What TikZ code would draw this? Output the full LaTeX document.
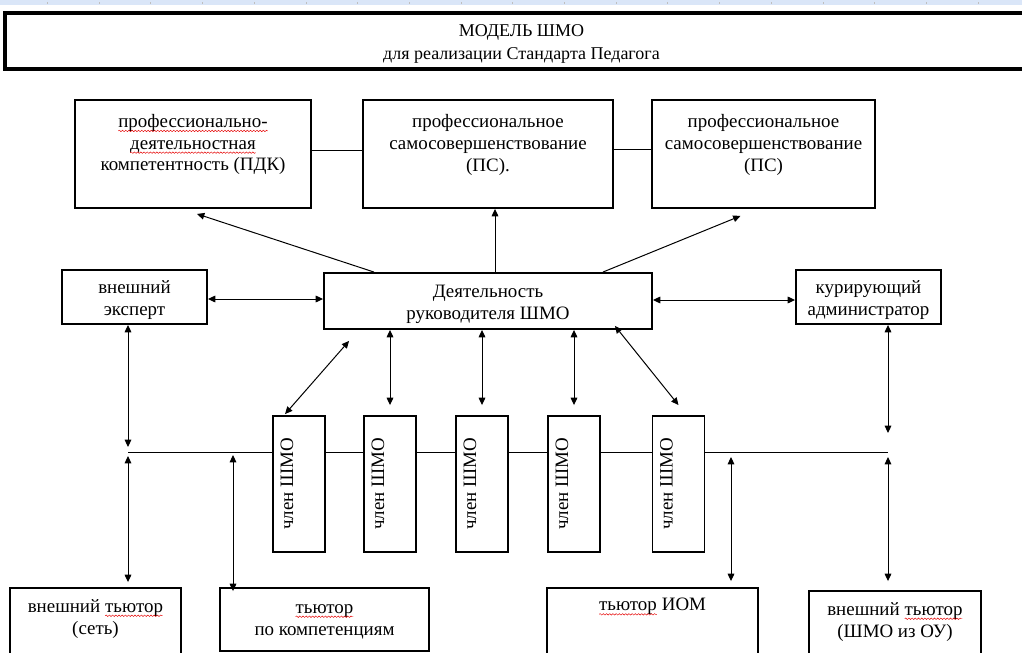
\documentclass[tikz,border=0pt]{standalone}
\usepackage{fontspec}
\setmainfont{Liberation Serif}
\usetikzlibrary{arrows.meta,calc,decorations.pathmorphing}

\definecolor{rulerblue}{RGB}{218,230,248}
\newcommand\spell[1]{\tikz[baseline=(sw.base)]{\node[shape=rectangle,draw=none,fill=none,inner sep=0pt,outer sep=0pt,minimum size=0pt,anchor=base] (sw) {#1};
  \draw[red!90!black,line width=0.35pt,decorate,decoration={snake,amplitude=0.55pt,segment length=2.4pt}]
    ([yshift=-2.6pt]sw.base west) -- ([yshift=-2.6pt]sw.base east);}}
\tikzset{every picture/.style={line width=0.75pt}}

\begin{document}
\begin{tikzpicture}[x=0.75pt,y=0.75pt,yscale=-1,>={Triangle[length=5.5pt,width=5pt]},
  box/.style={draw,line width=1.4pt,inner sep=0pt},
  boxsize/.style 2 args={minimum width=#1*0.75pt,minimum height=#2*0.75pt},
  txt/.style={inner sep=0pt,align=center,font=\fontsize{14.2}{16.3}\selectfont},
  vtxt/.style={inner sep=0pt,rotate=90,font=\fontsize{14.2}{16.3}\selectfont}]
\useasboundingbox (0,0) rectangle (1022,653);

%Shape: Rectangle (ruler strip)
\fill[rulerblue] (0,0) rectangle (1022,5);
\foreach \i in {0,...,19} \fill[gray!50] (47+51.7*\i,2) rectangle +(1,1.5);

%Shape: Rectangle [title]
\node[box,line width=2.3pt,boxsize={1027}{56}] (title) at (518.5,41) {};
% Text Node
\node[txt,font=\fontsize{13.5}{17.4}\selectfont] (titlet) at ($(title)+(3,3)$) {МОДЕЛЬ ШМО\\для реализации Стандарта Педагога};

%Shape: Rectangle [top row]
\node[box,boxsize={236}{108}] (pdk) at (193,154) {};
\node[box,boxsize={250}{108}] (psa) at (488,154) {};
\node[box,boxsize={223}{108}] (psb) at (763.5,154) {};
% Text Node
\node[txt,anchor=north] (pdkt) at ($(pdk.north)+(0,15)$) {\spell{профессионально-}\\\spell{деятельностная}\\компетентность (ПДК)};
% Text Node
\node[txt,anchor=north] (psat) at ($(psa.north)+(0,15)$) {профессиональное\\самосовершенствование\\(ПС).};
% Text Node
\node[txt,anchor=north] (psbt) at ($(psb.north)+(0,15)$) {профессиональное\\самосовершенствование\\(ПС)};

%Shape: Rectangle [middle row]
\node[box,boxsize={145}{54}] (expert) at (134.5,297) {};
\node[box,boxsize={328}{56}] (deyat) at (488,301) {};
\node[box,boxsize={145}{54}] (kur) at (868.5,297) {};
% Text Node
\node[txt] (expertt) at ($(expert)+(0,3)$) {внешний\\эксперт};
\node[txt] (deyatt) at ($(deyat)+(0,3)$) {Деятельность\\руководителя ШМО};
\node[txt] (kurt) at ($(kur)+(0,3)$) {курирующий\\администратор};

%Shape: Rectangle [members]
\node[box,boxsize={52}{136}] (ma) at (299,484) {};
\node[box,boxsize={52}{136}] (mb) at (390,484) {};
\node[box,boxsize={52}{136}] (mc) at (482,484) {};
\node[box,boxsize={52}{136}] (md) at (574,484) {};
\node[box,boxsize={52}{136}] (me) at (678.5,484) {};
% Text Node
\node[vtxt] (mat) at ($(ma)+(-12,0)$) {член ШМО};
\node[vtxt] (mbt) at ($(mb)+(-12,0)$) {член ШМО};
\node[vtxt] (mct) at ($(mc)+(-12,0)$) {член ШМО};
\node[vtxt] (mdt) at ($(md)+(-12,0)$) {член ШМО};
\node[vtxt] (met) at ($(me)+(-12,0)$) {член ШМО};

%Shape: Rectangle [tutors]
\node[box,boxsize={171}{92}] (tuta) at (95.5,634) {};
\node[box,boxsize={209}{63}] (tutb) at (324.5,619.5) {};
\node[box,boxsize={211}{92}] (tutc) at (652.5,634) {};
\node[box,boxsize={172}{89}] (tutd) at (895,635.5) {};
% Text Node
\node[txt,anchor=north] (tutat) at ($(tuta.north)+(0,12)$) {внешний \spell{тьютор}\\(сеть)};
\node[txt] (tutbt) at ($(tutb)+(0,2)$) {\spell{тьютор}\\по компетенциям};
\node[txt,anchor=north] (tutct) at ($(tutc.north)+(0,11)$) {\spell{тьютор} ИОМ};
\node[txt,anchor=north] (tutdt) at ($(tutd.north)+(0,12)$) {внешний \spell{тьютор}\\(ШМО из ОУ)};

% junctions on the members line
\coordinate (jl) at (128,452);
\coordinate (jc) at (233,452);
\coordinate (jm) at (731,452);
\coordinate (jr) at (888,452);

%Straight Lines
\draw ($(pdk.east)+(0,-4)$) -- ($(psa.west)+(0,-4)$);
\draw ($(psa.east)+(0,-5)$) -- ($(psb.west)+(0,-5)$);
\draw (jl) -- (ma.west |- jl);
\draw (ma.east |- jl) -- (mb.west |- jl);
\draw (mb.east |- jl) -- (mc.west |- jl);
\draw (mc.east |- jl) -- (md.west |- jl);
\draw (md.east |- jl) -- (me.west |- jl);
\draw (me.east |- jr) -- (jr);

%Arrows
\draw[->] ($(deyat.north west)+(51,0)$) -- ($(pdk.south)+(4,5)$);
\draw[->] ($(deyat.north)+(7,0)$) -- ($(psa.south)+(7,0)$);
\draw[->] ($(deyat.north east)+(-50,0)$) -- ($(psb.south)+(-23,7)$);
\draw[<->] ($(expert.east)+(0,2)$) -- ($(deyat.west)+(0,-2)$);
\draw[<->] ($(deyat.east)+(0,-1)$) -- ($(kur.west)+(0,3)$);
\draw[<->] ($(deyat.south west)+(26,11)$) -- ($(ma.north west)+(13,-1)$);
\draw[<->] (deyat.south -| mb) -- ($(mb.north)+(0,-10)$);
\draw[<->] (deyat.south -| mc) -- ($(mc.north)+(0,-10)$);
\draw[<->] (deyat.south -| md) -- ($(md.north)+(0,-10)$);
\draw[<->] ($(deyat.south east)+(-38,-4)$) -- ($(me.north)+(0,-10)$);
\draw[<->] (expert.south -| jl) -- ($(jl)+(0,-5)$);
\draw[<->] ($(jl)+(0,4)$) -- ($(tuta.north -| jl)+(0,-5)$);
\draw[<->] ($(jc)+(0,3)$) -- ($(tutb.north -| jc)+(0,4)$);
\draw[<->] ($(jm)+(0,5)$) -- ($(tutc.north -| jm)+(0,-6)$);
\draw[<->] (kur.south -| jr) -- ($(jr)+(0,-19)$);
\draw[<->] ($(jr)+(0,5)$) -- ($(tutd.north -| jr)+(0,-9)$);

\end{tikzpicture}
\end{document}
